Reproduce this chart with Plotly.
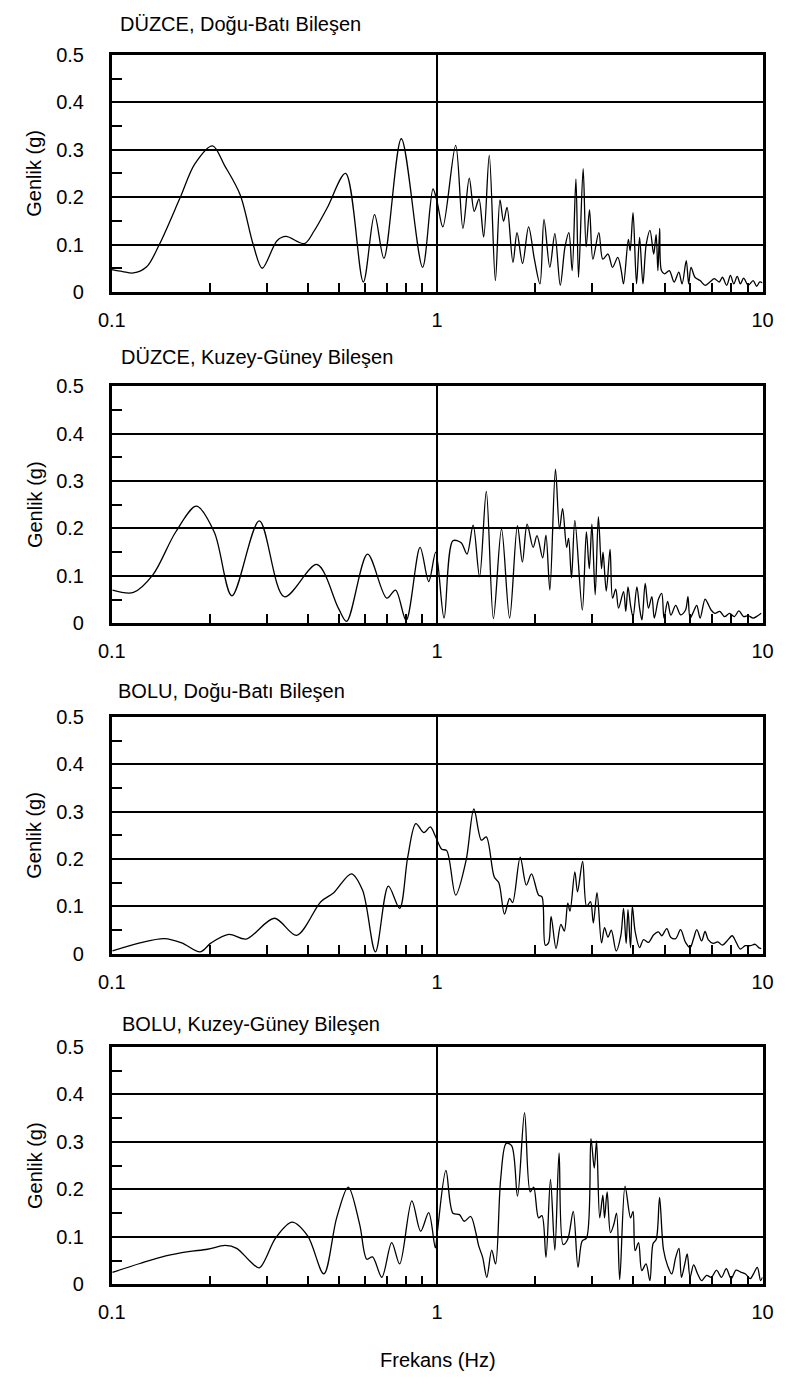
import plotly.graph_objects as go

# ---------------- data (frequency in Hz, amplitude in g) ----------------
duzce_ew_freq = [0.100, 0.108, 0.1165, 0.128, 0.140, 0.162, 0.180, 0.204, 0.222, 0.248, 0.272, 0.290,
                 0.322, 0.343, 0.391, 0.419, 0.459, 0.523, 0.593, 0.642, 0.686, 0.776, 0.902, 0.971,
                 1.0, 1.041, 1.14, 1.20, 1.255, 1.30, 1.344, 1.39, 1.446, 1.51, 1.56, 1.60, 1.64,
                 1.71, 1.76, 1.83, 1.91, 1.99, 2.07, 2.13, 2.22, 2.30, 2.39, 2.47, 2.54, 2.60, 2.67,
                 2.72, 2.81, 2.87, 2.94, 3.01, 3.14, 3.23, 3.35, 3.46, 3.59, 3.68, 3.74, 3.87, 3.92,
                 4.00, 4.10, 4.19, 4.29, 4.39, 4.51, 4.63, 4.71, 4.77, 4.83, 4.89, 5.00, 5.17, 5.35,
                 5.53, 5.66, 5.83, 5.93, 6.03, 6.20, 6.43, 6.66, 6.89, 7.11, 7.36, 7.53, 7.76, 7.97,
                 8.16, 8.36, 8.55, 8.75, 9.04, 9.36, 9.59, 9.81, 10.0]
duzce_ew_amp = [0.047, 0.043, 0.040, 0.053, 0.100, 0.198, 0.270, 0.308, 0.267, 0.205, 0.100, 0.050,
                0.108, 0.117, 0.102, 0.129, 0.177, 0.250, 0.021, 0.163, 0.071, 0.323, 0.052, 0.217,
                0.190, 0.137, 0.309, 0.134, 0.240, 0.170, 0.196, 0.116, 0.288, 0.024, 0.194, 0.149, 0.178,
                0.0625, 0.125, 0.060, 0.137, 0.069, 0.017, 0.153, 0.052, 0.123, 0.014, 0.094, 0.125, 0.045, 0.238,
                0.031, 0.260, 0.095, 0.173, 0.069, 0.125, 0.069, 0.080, 0.052, 0.073, 0.045, 0.017, 0.111, 0.087,
                0.167, 0.017, 0.115, 0.017, 0.100, 0.130, 0.080, 0.121, 0.045, 0.134, 0.045, 0.038, 0.045, 0.021,
                0.042, 0.017, 0.066, 0.017, 0.052, 0.031, 0.024, 0.014, 0.021, 0.028, 0.021, 0.031, 0.014, 0.035,
                0.017, 0.033, 0.017, 0.029, 0.014, 0.024, 0.012, 0.021, 0.019]

duzce_ns_freq = [0.1005, 0.1165, 0.1337, 0.157, 0.182, 0.2066, 0.234, 0.284, 0.339, 0.427, 0.497, 0.527,
                 0.611, 0.70, 0.745, 0.803, 0.886, 0.942, 0.990, 1.05, 1.118, 1.185, 1.235, 1.29, 1.35,
                 1.416, 1.489, 1.577, 1.67, 1.765, 1.828, 1.89, 1.973, 2.027, 2.11, 2.16, 2.22, 2.31,
                 2.377, 2.43, 2.50, 2.535, 2.588, 2.65, 2.794, 2.875, 2.935, 2.99, 3.06, 3.13, 3.20,
                 3.235, 3.31, 3.40, 3.46, 3.54, 3.61, 3.74, 3.80, 3.86, 3.93, 4.00, 4.11, 4.19, 4.26,
                 4.36, 4.46, 4.57, 4.65, 4.79, 4.90, 4.98, 5.11, 5.23, 5.41, 5.60, 5.80, 5.90, 5.99,
                 6.14, 6.28, 6.43, 6.66, 6.79, 6.95, 7.14, 7.39, 7.65, 7.92, 8.19, 8.46, 8.75, 9.04,
                 9.35, 9.67, 9.91]
duzce_ns_amp = [0.070, 0.065, 0.102, 0.192, 0.247, 0.192, 0.058, 0.216, 0.056, 0.124, 0.032, 0.004,
                0.146, 0.053, 0.070, 0.006, 0.160, 0.088, 0.150, 0.011, 0.174, 0.170, 0.146, 0.207, 0.098,
                0.278, 0.010, 0.199, 0.011, 0.206, 0.129, 0.209, 0.160, 0.185, 0.138, 0.186, 0.070, 0.325,
                0.199, 0.242, 0.160, 0.179, 0.096, 0.217, 0.028, 0.193, 0.115, 0.209, 0.060, 0.225, 0.115,
                0.150, 0.068, 0.156, 0.053, 0.072, 0.032, 0.067, 0.025, 0.077, 0.038, 0.013, 0.077, 0.032, 0.007,
                0.084, 0.032, 0.056, 0.011, 0.051, 0.063, 0.011, 0.046, 0.017, 0.038, 0.018, 0.028, 0.056, 0.011,
                0.025, 0.038, 0.011, 0.051, 0.042, 0.028, 0.021, 0.025, 0.014, 0.021, 0.014, 0.026, 0.014, 0.016,
                0.011, 0.016, 0.021]

bolu_ew_freq = [0.1005, 0.122, 0.145, 0.164, 0.187, 0.202, 0.229, 0.259, 0.316, 0.370, 0.439, 0.481,
                0.545, 0.590, 0.646, 0.708, 0.767, 0.812, 0.86, 0.91, 0.953, 0.987, 1.033, 1.07, 1.14,
                1.227, 1.297, 1.368, 1.416, 1.498, 1.547, 1.61, 1.67, 1.706, 1.80, 1.88, 1.95, 2.05,
                2.10, 2.15, 2.20, 2.24, 2.32, 2.40, 2.46, 2.52, 2.56, 2.65, 2.70, 2.80, 2.88, 2.96,
                3.02, 3.10, 3.20, 3.27, 3.35, 3.43, 3.55, 3.67, 3.74, 3.81, 3.86, 3.93, 3.98, 4.06,
                4.19, 4.31, 4.46, 4.63, 4.79, 4.90, 5.08, 5.22, 5.41, 5.60, 5.80, 5.99, 6.14, 6.28,
                6.50, 6.66, 6.81, 7.05, 7.29, 7.53, 7.78, 8.07, 8.30, 8.55, 8.85, 9.17, 9.50, 9.73, 9.91]
bolu_ew_amp = [0.006, 0.023, 0.032, 0.023, 0.004, 0.023, 0.041, 0.031, 0.075, 0.039, 0.110, 0.129,
               0.169, 0.134, 0.004, 0.143, 0.096, 0.204, 0.275, 0.256, 0.268, 0.249, 0.221, 0.218, 0.124,
               0.197, 0.306, 0.240, 0.247, 0.162, 0.150, 0.084, 0.117, 0.108, 0.204, 0.145, 0.169, 0.124,
               0.120, 0.018, 0.023, 0.079, 0.011, 0.062, 0.048, 0.107, 0.090, 0.173, 0.131, 0.195, 0.100, 0.110,
               0.065, 0.129, 0.023, 0.055, 0.035, 0.050, 0.006, 0.039, 0.096, 0.022, 0.093, 0.013, 0.100, 0.047,
               0.013, 0.030, 0.024, 0.040, 0.046, 0.038, 0.053, 0.035, 0.032, 0.051, 0.024, 0.013, 0.032, 0.051,
               0.027, 0.047, 0.030, 0.022, 0.025, 0.018, 0.027, 0.038, 0.024, 0.010, 0.017, 0.017, 0.020, 0.013, 0.011]

bolu_ns_freq = [0.1005, 0.122, 0.1465, 0.172, 0.197, 0.223, 0.242, 0.265, 0.284, 0.319, 0.358, 0.400,
                0.4485, 0.491, 0.533, 0.578, 0.608, 0.633, 0.676, 0.725, 0.767, 0.836, 0.890, 0.942,
                0.987, 1.002, 1.064, 1.118, 1.171, 1.211, 1.268, 1.312, 1.342, 1.380, 1.421, 1.471,
                1.512, 1.568, 1.630, 1.695, 1.766, 1.856, 1.932, 1.98, 2.05, 2.10, 2.16, 2.23, 2.30,
                2.37, 2.44, 2.52, 2.62, 2.71, 2.79, 2.88, 2.97, 3.04, 3.09, 3.16, 3.23, 3.27, 3.33,
                3.41, 3.49, 3.56, 3.64, 3.78, 3.93, 4.00, 4.06, 4.16, 4.255, 4.385, 4.507, 4.61, 4.715,
                4.826, 4.96, 5.11, 5.26, 5.41, 5.535, 5.635, 5.77, 5.87, 5.99, 6.14, 6.32, 6.50, 6.73,
                6.97, 7.22, 7.48, 7.74, 8.01, 8.29, 8.57, 8.87, 9.17, 9.38, 9.64, 9.87, 10.0]
bolu_ns_amp = [0.0255, 0.044, 0.060, 0.069, 0.074, 0.082, 0.076, 0.050, 0.035, 0.098, 0.131, 0.102,
               0.022, 0.140, 0.205, 0.126, 0.053, 0.058, 0.015, 0.088, 0.043, 0.176, 0.112, 0.151,
               0.077, 0.112, 0.240, 0.150, 0.147, 0.133, 0.143, 0.112, 0.081, 0.057, 0.015, 0.072,
               0.043, 0.223, 0.297, 0.292, 0.186, 0.362, 0.195, 0.205, 0.140, 0.145, 0.057, 0.221, 0.072,
               0.277, 0.084, 0.095, 0.154, 0.036, 0.091, 0.098, 0.307, 0.245, 0.302, 0.140, 0.188, 0.140, 0.195,
               0.109, 0.126, 0.150, 0.010, 0.207, 0.140, 0.154, 0.071, 0.088, 0.029, 0.043, 0.008, 0.086, 0.095,
               0.183, 0.074, 0.039, 0.022, 0.057, 0.076, 0.015, 0.043, 0.064, 0.015, 0.041, 0.022, 0.008, 0.019,
               0.015, 0.030, 0.015, 0.033, 0.012, 0.030, 0.026, 0.022, 0.012, 0.022, 0.036, 0.008, 0.015]

panel_titles = ["DÜZCE, Doğu-Batı Bileşen", "DÜZCE, Kuzey-Güney Bileşen",
                "BOLU, Doğu-Batı Bileşen", "BOLU, Kuzey-Güney Bileşen"]
x_tick_vals = [0.1, 1, 10]
x_tick_text = ["0.1", "1", "10"]
x_minor_vals = [0.2, 0.3, 0.4, 0.5, 0.6, 0.7, 0.8, 0.9, 2, 3, 4, 5, 6, 7, 8, 9]
y_tick_vals = [0, 0.1, 0.2, 0.3, 0.4, 0.5]
y_tick_text = ["0", "0.1", "0.2", "0.3", "0.4", "0.5"]
y_minor_vals = [0.05, 0.15, 0.25, 0.35, 0.45]
y_axis_title = "Genlik (g)"
x_axis_title = "Frekans (Hz)"

series = [(duzce_ew_freq, duzce_ew_amp), (duzce_ns_freq, duzce_ns_amp),
          (bolu_ew_freq, bolu_ew_amp), (bolu_ns_freq, bolu_ns_amp)]

# ---------------- layout geometry (pixels) ----------------
W, H = 789, 1381
FONT = "Liberation Sans, Arial, sans-serif"
FS = 20
plot_left, plot_right = 101, 773
panel_px = [(44.5, 285.5), (381.3, 622.2), (717.6, 958.0), (1052.8, 1294.0)]
title_px = [(107.5, 13), (108, 352), (105, 691.5), (109, 1029)]

def py(p):
    return 1 - p / H

fig = go.Figure()
layout = dict(
    width=W, height=H, margin=dict(l=0, r=0, t=0, b=0, pad=0),
    paper_bgcolor="white", plot_bgcolor="white", showlegend=False,
    font=dict(family=FONT, size=FS, color="black"),
)
annotations = []
for i, ((fx, fa), (top, bot)) in enumerate(zip(series, panel_px)):
    n = "" if i == 0 else str(i + 1)
    fig.add_trace(go.Scatter(
        x=fx, y=fa, mode="lines", xaxis="x" + n, yaxis="y" + n,
        line=dict(color="black", width=1.3, shape="spline", smoothing=0.9),
        hoverinfo="skip"))
    layout["xaxis" + n] = dict(
        type="log", range=[-1, 1], domain=[plot_left / W, plot_right / W],
        anchor="y" + n, showline=True, linecolor="black", linewidth=2.6, mirror=True,
        tickmode="array", tickvals=x_tick_vals, ticktext=x_tick_text,
        ticks="inside", ticklen=18, tickwidth=1.8, tickcolor="black",
        showgrid=True, gridcolor="black", gridwidth=1.5, zeroline=False,
        ticklabelstandoff=8, tickfont=dict(family=FONT, size=FS, color="black"),
        minor=dict(tickmode="array", tickvals=x_minor_vals, ticks="inside", ticklen=9,
                   tickwidth=1.5, tickcolor="black", showgrid=False),
    )
    layout["yaxis" + n] = dict(
        range=[0, 0.5], domain=[py(bot), py(top)], anchor="x" + n,
        showline=True, linecolor="black", linewidth=2.6, mirror=True,
        tickmode="array", tickvals=y_tick_vals, ticktext=y_tick_text,
        ticks="inside", ticklen=18, tickwidth=1.8, tickcolor="black",
        showgrid=True, gridcolor="black", gridwidth=1.5, zeroline=False,
        ticklabelstandoff=21, tickfont=dict(family=FONT, size=FS, color="black"),
        minor=dict(tickmode="array", tickvals=y_minor_vals, ticks="inside", ticklen=10,
                   tickwidth=1.5, tickcolor="black", showgrid=False),
    )
    tx, ty = title_px[i]
    annotations.append(dict(text=panel_titles[i], x=tx / W, y=py(ty), xref="paper", yref="paper",
                            xanchor="left", yanchor="middle", showarrow=False,
                            font=dict(family=FONT, size=FS, color="black")))
    annotations.append(dict(text=y_axis_title, x=21 / W, y=py((top + bot) / 2), xref="paper", yref="paper",
                            xanchor="center", yanchor="middle", textangle=-90, showarrow=False,
                            font=dict(family=FONT, size=FS, color="black")))

annotations.append(dict(text=x_axis_title, x=437.5 / W, y=py(1371), xref="paper", yref="paper",
                        xanchor="center", yanchor="middle", showarrow=False,
                        font=dict(family=FONT, size=FS, color="black")))
layout["annotations"] = annotations
fig.update_layout(**layout)
fig.write_html("out.html")
